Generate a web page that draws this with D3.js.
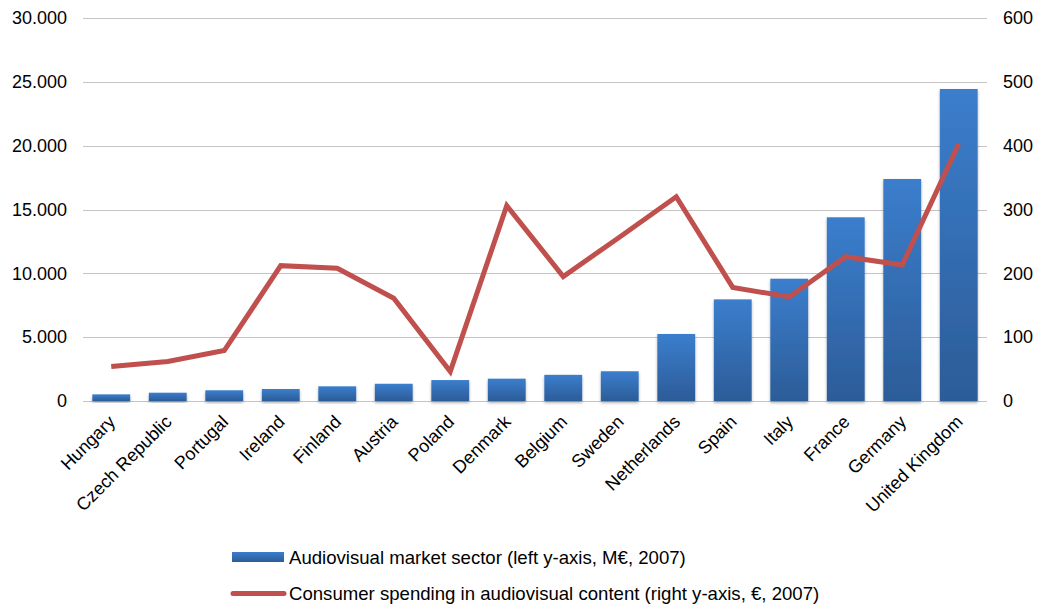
<!DOCTYPE html>
<html>
<head>
<meta charset="utf-8">
<script src="https://cdn.jsdelivr.net/npm/d3@7"></script>
<style>
  body { margin: 0; background: #fff; }
  text { font-family: "Liberation Sans", Arial, sans-serif; fill: #000; }
</style>
</head>
<body>
<svg id="chart" width="1038" height="605"></svg>
<script>
// data
var countries = ["Hungary", "Czech Republic", "Portugal", "Ireland", "Finland", "Austria", "Poland",
	"Denmark", "Belgium", "Sweden", "Netherlands", "Spain", "Italy", "France", "Germany", "United Kingdom"];
var marketSector = [520, 650, 840, 940, 1150, 1350, 1640, 1750, 2050, 2330, 5250, 7960, 9580, 14390, 17390, 24440];
var consumerSpending = [54, 62, 79, 212, 208, 161, 46, 306, 195, 257, 320, 178, 163, 226, 213, 403];
var leftTicks = [0, 5000, 10000, 15000, 20000, 25000, 30000];
var rightTicks = [0, 100, 200, 300, 400, 500, 600];
var legendLabels = ["Audiovisual market sector (left y-axis, M\u20ac, 2007)",
	"Consumer spending in audiovisual content (right y-axis, \u20ac, 2007)"];

var margin = {left: 83, right: 51, top: 18, bottom: 204};
var w = 1038 - margin.left - margin.right;
var h = 605 - margin.top - margin.bottom;

var svg = d3.select("#chart");

var defs = svg.append("defs");
var grad = defs.append("linearGradient")
	.attr("id", "barGrad")
	.attr("x1", 0).attr("y1", 0).attr("x2", 0).attr("y2", 1);
grad.append("stop").attr("offset", "0%").attr("stop-color", "#3b7ecd");
grad.append("stop").attr("offset", "100%").attr("stop-color", "#2c5c98");

var shadow = defs.append("filter").attr("id", "shadow")
	.attr("x", "-20%").attr("y", "-20%").attr("width", "140%").attr("height", "140%");
shadow.append("feDropShadow")
	.attr("dx", 0).attr("dy", 2).attr("stdDeviation", 1.5)
	.attr("flood-color", "#000").attr("flood-opacity", 0.3);

var g = svg.append("g")
	.attr("transform", "translate(" + margin.left + "," + margin.top + ")");

var x = d3.scaleBand()
	.domain(countries)
	.range([0, w])
	.paddingInner(0.33)
	.paddingOuter(0.165);

var yLeft = d3.scaleLinear().domain([0, 30000]).range([h, 0]);
var yRight = d3.scaleLinear().domain([0, 600]).range([h, 0]);

// gridlines
g.append("g")
	.selectAll("line")
	.data(leftTicks)
	.enter()
	.append("line")
	.attr("x1", 0)
	.attr("x2", w)
	.attr("y1", function(d) { return Math.round(yLeft(d)) + 0.5; })
	.attr("y2", function(d) { return Math.round(yLeft(d)) + 0.5; })
	.style("stroke", "#c4c4c4")
	.style("stroke-width", 1.2);

// left axis
var fmt = function(d) { return d3.format(",")(d).replace(/,/g, "."); };
var leftAxis = d3.axisLeft(yLeft).tickValues(leftTicks).tickFormat(fmt).tickSize(0).tickPadding(16);
var la = g.append("g").call(leftAxis);
la.select(".domain").remove();
la.selectAll("text").style("font-size", "18px");

// right axis
var rightAxis = d3.axisRight(yRight).tickValues(rightTicks).tickSize(0).tickPadding(16);
var ra = g.append("g").attr("transform", "translate(" + w + ",0)").call(rightAxis);
ra.select(".domain").remove();
ra.selectAll("text").style("font-size", "18px");

// bars
g.append("g")
	.selectAll("rect")
	.data(marketSector)
	.enter()
	.append("rect")
	.attr("x", function(d, i) { return x(countries[i]); })
	.attr("width", x.bandwidth())
	.attr("y", function(d) { return yLeft(d); })
	.attr("height", function(d) { return h - yLeft(d); })
	.style("fill", "url(#barGrad)")
	.attr("filter", "url(#shadow)");

// line
var line = d3.line()
	.x(function(d, i) { return x(countries[i]) + x.bandwidth() / 2; })
	.y(function(d) { return yRight(d); });

g.append("path")
	.datum(consumerSpending)
	.attr("d", line)
	.style("fill", "none")
	.style("stroke", "#c0504d")
	.style("stroke-width", 5)
	.style("stroke-linejoin", "miter");

// x axis labels
var xAxis = d3.axisBottom(x).tickSize(0).tickPadding(0);
var xa = g.append("g").attr("transform", "translate(0," + h + ")").call(xAxis);
xa.select(".domain").remove();
xa.selectAll("text")
	.style("font-size", "18px")
	.style("text-anchor", "end")
	.attr("dx", 0)
	.attr("dy", 0)
	.attr("transform", "translate(5,22)rotate(-45)");

// legend
var legend = svg.append("g").attr("transform", "translate(232,0)");
legend.append("rect")
	.attr("x", 0).attr("y", 552)
	.attr("width", 52).attr("height", 10)
	.style("fill", "url(#barGrad)");
legend.append("line")
	.attr("x1", 1).attr("x2", 52)
	.attr("y1", 593.5).attr("y2", 593.5)
	.style("stroke", "#c0504d")
	.style("stroke-width", 5)
	.style("stroke-linecap", "round");
legend.selectAll("text.leg")
	.data(legendLabels)
	.enter()
	.append("text")
	.attr("class", "leg")
	.attr("x", 57)
	.attr("y", function(d, i) { return 563.5 + i * 36; })
	.style("font-size", "18.6px")
	.text(function(d) { return d; });
</script>
</body>
</html>
